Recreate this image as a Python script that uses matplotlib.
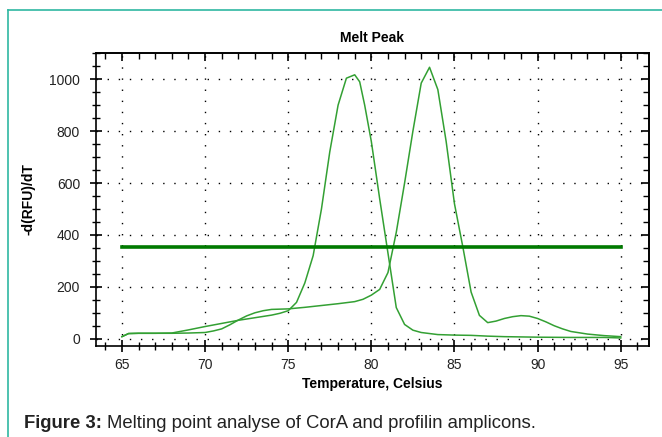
import numpy as np
import matplotlib
matplotlib.use("Agg")
import matplotlib.pyplot as plt
from matplotlib import ticker
from matplotlib.lines import Line2D

plt.rcParams['font.family'] = ['Liberation Sans', 'DejaVu Sans']

# melt peak curves, -d(RFU)/dT vs temperature
temp_a = [65, 65.4, 66, 67, 68, 69, 70, 71, 72, 73, 74, 74.5, 75, 75.5, 76, 76.5,
          77, 77.5, 78, 78.5, 79, 79.3, 79.6, 80, 80.5, 81, 81.5, 82, 82.5, 83,
          84, 85, 86, 87, 88, 90, 92, 94, 95]
rfu_a = [8, 20, 21, 21, 22, 34, 47, 59, 71, 81, 91, 98, 108, 140, 215, 320,
         500, 720, 900, 1004, 1017, 990, 900, 760, 540, 330, 120, 55, 33, 24,
         16, 14, 13, 10, 8, 6, 5, 5, 3]

temp_b = [65, 65.4, 66, 67, 68, 69, 70, 70.5, 71, 71.5, 72, 72.5, 73, 73.5, 74,
          75, 76, 77, 78, 79, 79.5, 80, 80.5, 81, 81.5, 82, 82.5, 83, 83.5, 84,
          84.5, 85, 85.5, 86, 86.5, 87, 87.5, 88, 88.5, 89, 89.5, 90, 90.5, 91,
          91.5, 92, 93, 94, 95]
rfu_b = [8, 20, 21, 21, 21, 22, 24, 30, 38, 54, 72, 88, 100, 108, 113,
         115, 121, 128, 135, 143, 152, 168, 190, 255, 410, 600, 800, 985, 1046, 960,
         760, 520, 355, 180, 90, 62, 68, 78, 85, 89, 87, 78, 65, 50,
         38, 28, 18, 12, 8]

threshold = 355
thr_range = [65, 95]

fig = plt.figure(figsize=(6.62, 4.37), dpi=100)
ax = fig.add_axes([96/662, 1-346/437, (649-96)/662, (346-53)/437])

curve_col = '#33a033'
ax.plot(temp_a, rfu_a, color=curve_col, lw=1.1, zorder=3)
ax.plot(temp_b, rfu_b, color=curve_col, lw=1.1, zorder=3)
ax.plot(thr_range, [threshold, threshold], color='#007a00', lw=2.6, zorder=4)

ax.set_xlim(63.44, 96.7)
ax.set_ylim(-28, 1101)

ax.xaxis.set_major_locator(ticker.MultipleLocator(5))
ax.xaxis.set_minor_locator(ticker.MultipleLocator(1))
ax.yaxis.set_major_locator(ticker.MultipleLocator(200))
ax.yaxis.set_minor_locator(ticker.MultipleLocator(50))
ax.tick_params(which='major', direction='inout', length=9, width=1.2,
               labelsize=10, labelcolor='#222222', pad=4)
ax.tick_params(axis='y', which='major', pad=7)
ax.tick_params(which='minor', direction='inout', length=6, width=1.0)

# top and right: inward ticks only
top = ax.secondary_xaxis('top')
top.xaxis.set_major_locator(ticker.MultipleLocator(5))
top.xaxis.set_minor_locator(ticker.MultipleLocator(1))
top.tick_params(which='major', direction='in', length=6, width=1.2, labeltop=False)
top.tick_params(which='minor', direction='in', length=4, width=1.0)
right = ax.secondary_yaxis('right')
right.yaxis.set_major_locator(ticker.MultipleLocator(200))
right.yaxis.set_minor_locator(ticker.MultipleLocator(50))
right.tick_params(which='major', direction='in', length=6, width=1.2, labelright=False)
right.tick_params(which='minor', direction='in', length=4, width=1.0)

for sp in list(ax.spines.values()) + [top.spines['top'], right.spines['right']]:
    sp.set_linewidth(1.2)

ax.grid(which='major', color='black', ls=(0, (1, 7)), lw=1.0, zorder=1)

ax.set_title('Melt Peak', fontsize=10, fontweight='bold', pad=8)
ax.set_xlabel('Temperature, Celsius', fontsize=10, fontweight='bold', labelpad=4)
ax.set_ylabel('-d(RFU)/dT', fontsize=10, fontweight='bold', labelpad=10)

# caption
cap_y = 1 - 428.5/437
cap1 = fig.text(24/662, cap_y, 'Figure 3:', fontsize=13.3, fontweight='bold',
                color='#222222', va='baseline')
fig.canvas.draw()
bb = cap1.get_window_extent()
fig.text((bb.x1 + 5)/662, cap_y, 'Melting point analyse of CorA and profilin amplicons.',
         fontsize=13.3, color='#222222', va='baseline')

# teal frame
frame_col = '#2fb8a2'
fig.add_artist(Line2D([8/662, 8/662], [0, 1-10/437], color=frame_col, lw=1.2))
fig.add_artist(Line2D([8/662, 1], [1-10/437, 1-10/437], color=frame_col, lw=1.2))

fig.savefig('out.png', dpi=100)
